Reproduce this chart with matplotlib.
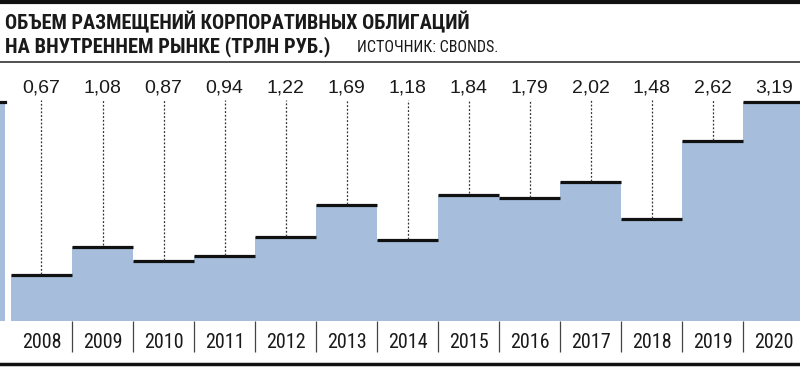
import matplotlib.pyplot as plt
from matplotlib.lines import Line2D
from matplotlib.patches import Rectangle

years = ['2008', '2009', '2010', '2011', '2012', '2013', '2014',
         '2015', '2016', '2017', '2018', '2019', '2020']
values = [0.67, 1.08, 0.87, 0.94, 1.22, 1.69, 1.18,
          1.84, 1.79, 2.02, 1.48, 2.62, 3.19]
labels = ['0,67', '1,08', '0,87', '0,94', '1,22', '1,69', '1,18',
          '1,84', '1,79', '2,02', '1,48', '2,62', '3,19']

title1 = 'ОБЪЕМ РАЗМЕЩЕНИЙ КОРПОРАТИВНЫХ ОБЛИГАЦИЙ'
title2 = 'НА ВНУТРЕННЕМ РЫНКЕ (ТРЛН РУБ.)'
source = 'ИСТОЧНИК: CBONDS.'

W, H = 800, 367
bar_color = '#a6bedb'
narrow = ['Roboto Condensed', 'PT Sans Narrow', 'DejaVu Sans']
regular = ['Liberation Sans', 'DejaVu Sans']

fig = plt.figure(figsize=(W / 100, H / 100), dpi=100)

# axes: baseline at y=321px, top at y=62px
ax = fig.add_axes([0, (H - 321) / H, 1, (321 - 62) / H])
ax.set_xlim(-0.68, 12.43)
ax.set_ylim(0, 3.773)
ax.axis('off')

x = list(range(len(years)))
ax.bar(x, values, width=1.0, color=bar_color, edgecolor='none')
ax.hlines(values, [i - 0.5 for i in x], [i + 0.5 for i in x],
          colors='#111111', lw=2.3)

for i, v in enumerate(values):
    ax.text(i, 3.39, labels[i], ha='center', va='center',
            fontsize=14, family=regular, color='#1a1a1a')
    if v < 3.15:
        ax.vlines(i, v + 0.02, 3.22, colors='#333333', lw=0.9,
                  linestyles=(0, (1.5, 1.5)))

# year labels and separators below baseline
for i, y in enumerate(years):
    ax.text(i, -0.31, y, ha='center', va='center', fontsize=14.5,
            family=narrow, color='#1a1a1a')
for i in range(len(years) - 1):
    ax.vlines(i + 0.5, -0.45, 0, colors='#444444', lw=0.9, clip_on=False)

# cut-off piece of a neighbouring chart on the left edge
fig.add_artist(Rectangle((0, (H - 321) / H), 5 / W, (321 - 102) / H,
                         transform=fig.transFigure, color=bar_color, lw=0))
fig.add_artist(Line2D([0, 5 / W], [1 - 102 / H] * 2, color='#111111', lw=2.3))

# rules
fig.add_artist(Line2D([0, 1], [1 - 1.5 / H] * 2, color='#111111', lw=3))
fig.add_artist(Line2D([0, 1], [1 - 62 / H] * 2, color='#333333', lw=1.2))
fig.add_artist(Line2D([0, 1], [1 - 364 / H] * 2, color='#111111', lw=2.5))

# titles
fig.text(5 / W, 1 - 22 / H, title1, ha='left', va='center', fontsize=14.6,
         fontweight='bold', family=narrow, color='#1a1a1a')
fig.text(5 / W, 1 - 47 / H, title2, ha='left', va='center', fontsize=14.8,
         fontweight='bold', family=narrow, color='#1a1a1a')
fig.text(357 / W, 1 - 48 / H, source, ha='left', va='center', fontsize=11.5,
         family=narrow, color='#1a1a1a')

fig.savefig('out.png', dpi=100)
